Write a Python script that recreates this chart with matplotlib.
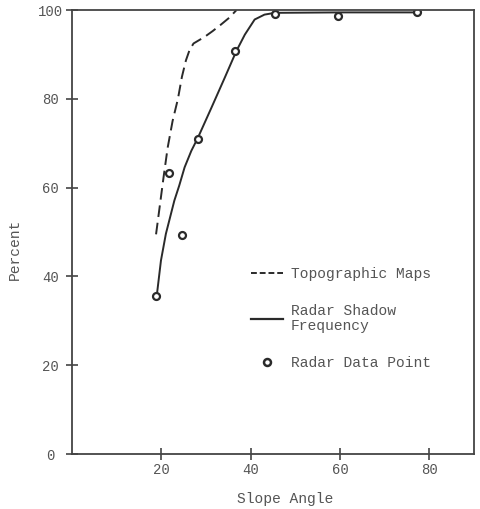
import matplotlib.pyplot as plt
from matplotlib.lines import Line2D

# values
topo_x = [18.8, 19.6, 20.5, 21.4, 22.5, 23.7, 24.6, 25.5, 26.3, 27.2, 29.7, 31.5, 33.4, 35.2, 36.8]
topo_y = [49.5, 55.6, 62.5, 69.0, 75.0, 80.0, 85.0, 88.7, 91.0, 92.5, 94.0, 95.3, 96.8, 98.3, 100.0]

shadow_x = [19.0, 19.9, 21.0, 22.9, 24.0, 25.2, 26.7, 28.2, 31.2, 34.2, 36.8, 38.7, 40.9, 43.1, 45.4, 60.0, 77.5]
shadow_y = [36.0, 43.6, 49.6, 57.1, 60.5, 64.6, 68.3, 71.3, 78.0, 84.8, 90.8, 94.5, 97.9, 99.0, 99.4, 99.5, 99.5]

point_x = [18.9, 21.6, 24.7, 28.3, 36.6, 45.4, 59.6, 77.3]
point_y = [35.7, 63.4, 49.4, 71.0, 90.8, 99.1, 98.7, 99.6]

xticks = [20, 40, 60, 80]
yticks = [0, 20, 40, 60, 80, 100]

ink = "#2a2a2a"
txt = "#555555"
plt.rcParams["font.family"] = ["Liberation Mono", "DejaVu Sans Mono"]

fig = plt.figure(figsize=(4.81, 5.09), dpi=100)
ax = fig.add_axes([0.150, 0.108, 0.835, 0.872])

ax.plot(topo_x, topo_y, color=ink, lw=1.4, ls=(0, (6, 3)))
ax.plot(shadow_x, shadow_y, color=ink, lw=1.4)
ax.plot(point_x, point_y, ls="none", marker="o", ms=5, mfc="white",
        mec=ink, mew=1.6)

ax.set_xlim(0, 90)
ax.set_ylim(0, 100)
ax.set_xticks(xticks)
ax.set_yticks(yticks)

for s in ax.spines.values():
    s.set_color("#444444")
    s.set_linewidth(1.3)

ax.tick_params(direction="inout", length=9, width=1.2, color="#444444",
               labelcolor=txt, labelsize=10)
ax.tick_params(axis="x", pad=2)
ax.tick_params(axis="y", pad=11)
for lab in ax.get_yticklabels():
    lab.set_horizontalalignment("center")

ax.set_xlabel("Slope Angle", fontsize=10.5, color=txt)
ax.set_ylabel("Percent", fontsize=10.5, color=txt)
ax.xaxis.set_label_coords(0.53, -0.085)
ax.yaxis.set_label_coords(-0.125, 0.46)

handles = [
    Line2D([], [], color=ink, lw=1.4, ls=(0, (3, 1.5))),
    Line2D([], [], color=ink, lw=1.6),
    Line2D([], [], ls="none", marker="o", ms=5, mfc="white", mec=ink, mew=1.8),
]
labels = ["Topographic Maps", "Radar Shadow\nFrequency", "Radar Data Point"]
leg = ax.legend(handles, labels, loc="upper left", bbox_to_anchor=(0.446, 0.422),
                frameon=False, fontsize=10.5, handlelength=2.2, handletextpad=0.5,
                labelspacing=1.6, borderpad=0, borderaxespad=0)
for t in leg.get_texts():
    t.set_color(txt)
    t.set_linespacing(1.1)

fig.savefig("out.png", dpi=100)
